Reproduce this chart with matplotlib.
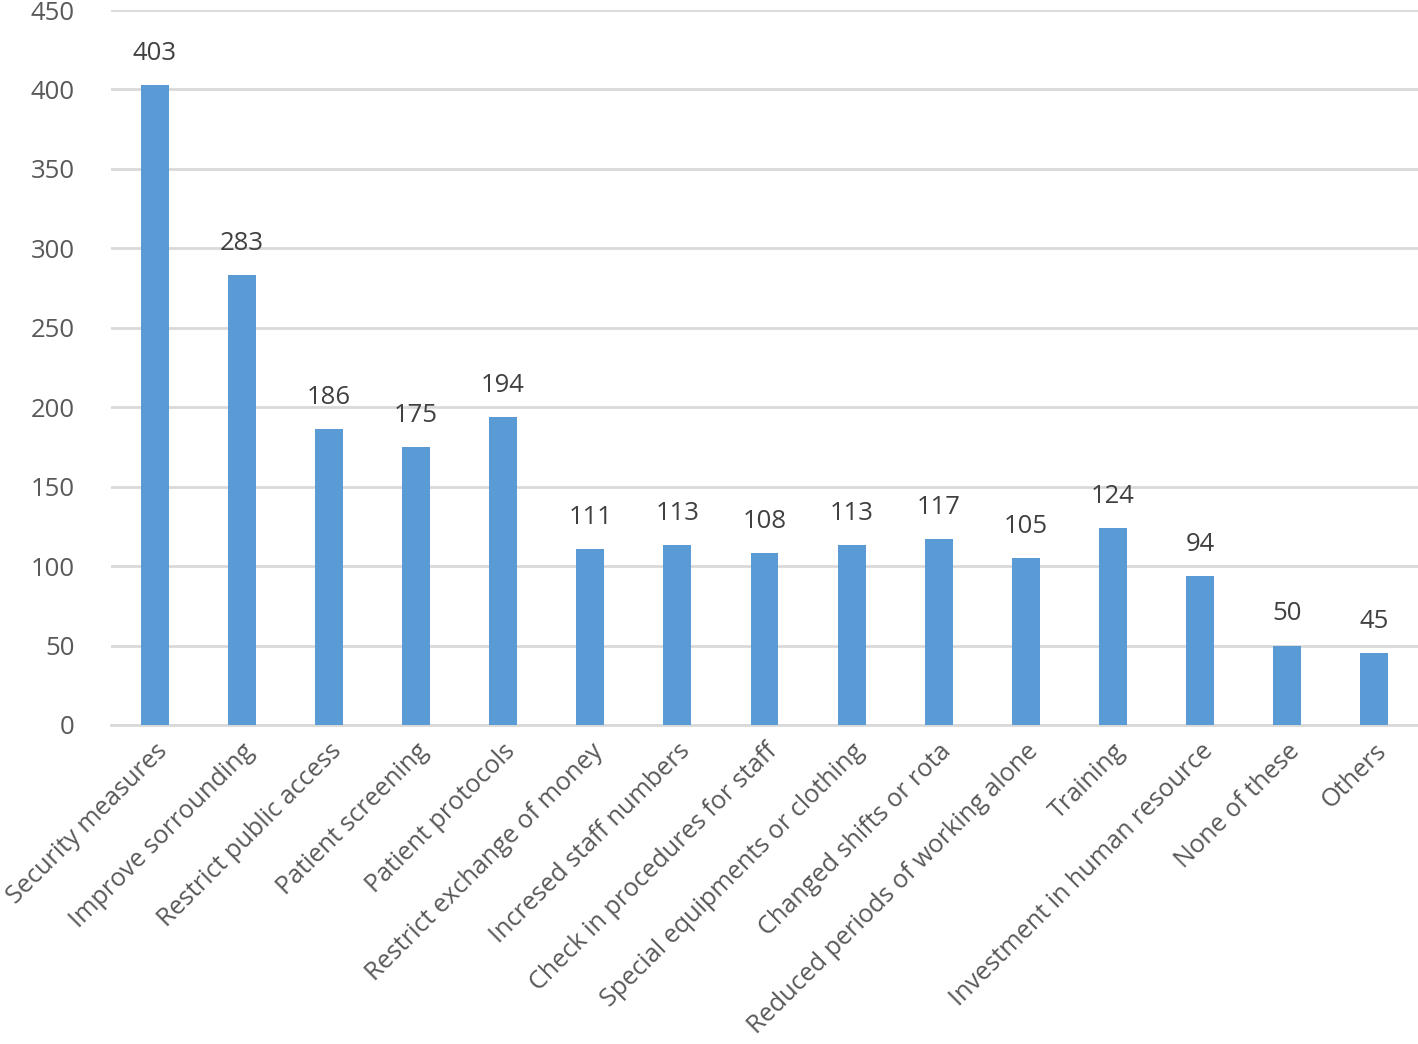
import matplotlib.pyplot as plt

plt.rcParams['font.family'] = ['Open Sans', 'DejaVu Sans']

categories = ['Security measures', 'Improve sorrounding', 'Restrict public access',
              'Patient screening', 'Patient protocols', 'Restrict exchange of money',
              'Incresed staff numbers', 'Check in procedures for staff',
              'Special equipments or clothing', 'Changed shifts or rota',
              'Reduced periods of working alone', 'Training',
              'Investment in human resource', 'None of these', 'Others']
values = [403, 283, 186, 175, 194, 111, 113, 108, 113, 117, 105, 124, 94, 50, 45]
yticks = [0, 50, 100, 150, 200, 250, 300, 350, 400, 450]

fig = plt.figure(figsize=(14.18, 10.44), dpi=100)
ax = fig.add_axes([0.0783, 0.3056, 0.9217, 0.6848])

x = list(range(len(categories)))
bars = ax.bar(x, values, width=0.32, color='#5B9BD5', zorder=3)

for xi, v in zip(x, values):
    ax.text(xi, v + 12, str(v), ha='center', va='bottom', fontsize=18.5, color='#404040')

ax.set_xlim(-0.5, len(categories) - 0.5)
ax.set_ylim(0, 450)
ax.set_yticks(yticks)
ax.set_yticklabels([str(t) for t in yticks], fontsize=18.5, color='#595959')
ax.set_xticks(x)
ax.set_xticklabels(categories, rotation=45, ha='right', rotation_mode='anchor',
                   fontsize=18.2, color='#595959')
ax.tick_params(axis='both', length=0)
ax.tick_params(axis='y', pad=26)
ax.tick_params(axis='x', pad=10)

ax.grid(axis='y', color='#D9D9D9', linewidth=2, zorder=0)
for s in ['top', 'right', 'left']:
    ax.spines[s].set_visible(False)
ax.spines['bottom'].set_color('#D9D9D9')
ax.spines['bottom'].set_linewidth(2)

fig.savefig('out.png', dpi=100)
